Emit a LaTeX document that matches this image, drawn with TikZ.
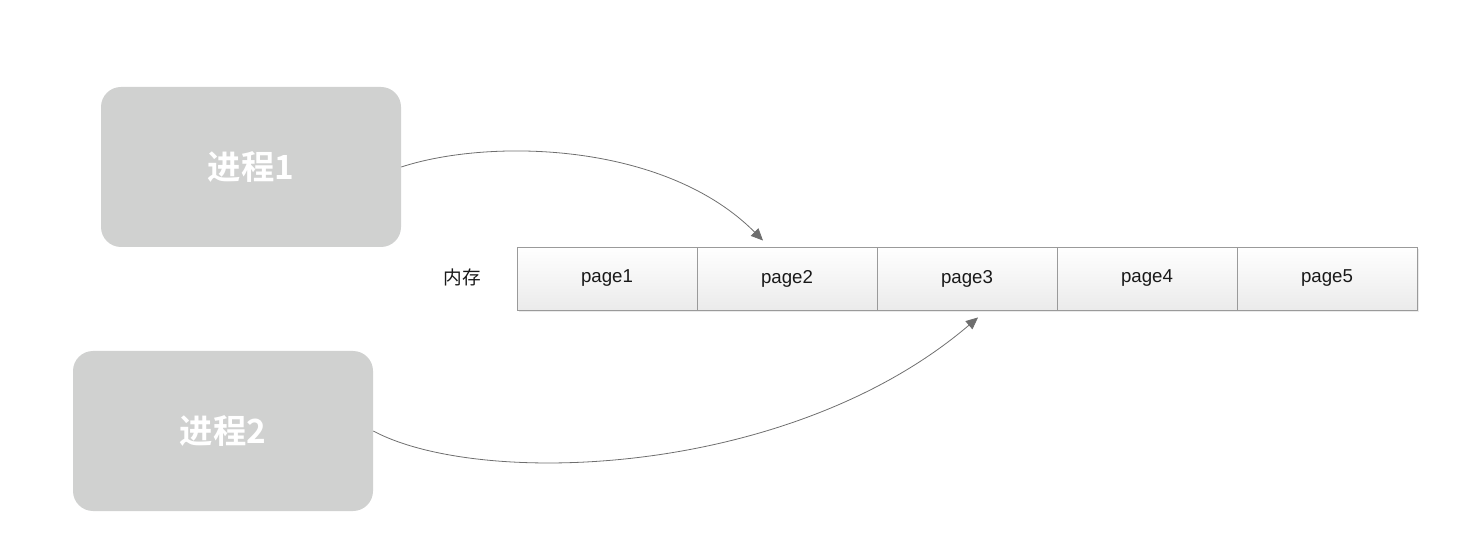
\documentclass[tikz,border=0pt]{standalone}
\usepackage{fontspec}
\setmainfont{Liberation Sans}
\newfontfamily\cjk{Noto Sans CJK SC}
\newfontfamily\cjkbold{Noto Sans CJK SC Bold}
\usetikzlibrary{arrows.meta,shadows}

\definecolor{procgray}{HTML}{D0D1D0}
\definecolor{cellline}{HTML}{9A9A9A}
\definecolor{arrowgray}{HTML}{6E6E6E}

\tikzset{
  process/.style={fill=procgray, rounded corners=15pt, minimum width=225pt,
    minimum height=120pt, text=white, font=\cjkbold\fontsize{25}{30}\selectfont},
  pagecell/.style={draw=cellline, line width=0.7pt, top color=white, bottom color=black!8,
    minimum width=135pt, minimum height=47.25pt, text=black!90,
    font=\fontsize{14}{17}\selectfont,
    drop shadow={shadow xshift=1.5pt, shadow yshift=-1.5pt, fill=black!8, opacity=1}},
  link/.style={draw=arrowgray, line width=0.6pt, -{Triangle[length=9pt,width=8pt]}}
}

\begin{document}
\begin{tikzpicture}[x=0.75pt,y=-0.75pt]
\useasboundingbox (0,0) rectangle (1462,548);

\node[process] (proc1) at (251,167) {进程1};
\node[process] (proc2) at (223,431) {进程2};

\node[font=\cjk\fontsize{14}{17}\selectfont, text=black!90] (mem) at (462,277) {内存};

\foreach \i in {1,...,5}
  \node[pagecell] (page\i) at (427+180*\i,278.5) {page\i};

\draw[link] (proc1.east) .. controls (490,138) and (665,142) .. ([shift={(-24,-6)}]page2.north);
\draw[link] (proc2.east) .. controls (480,488) and (790,478) .. ([shift={(11,7)}]page3.south);

\end{tikzpicture}
\end{document}
